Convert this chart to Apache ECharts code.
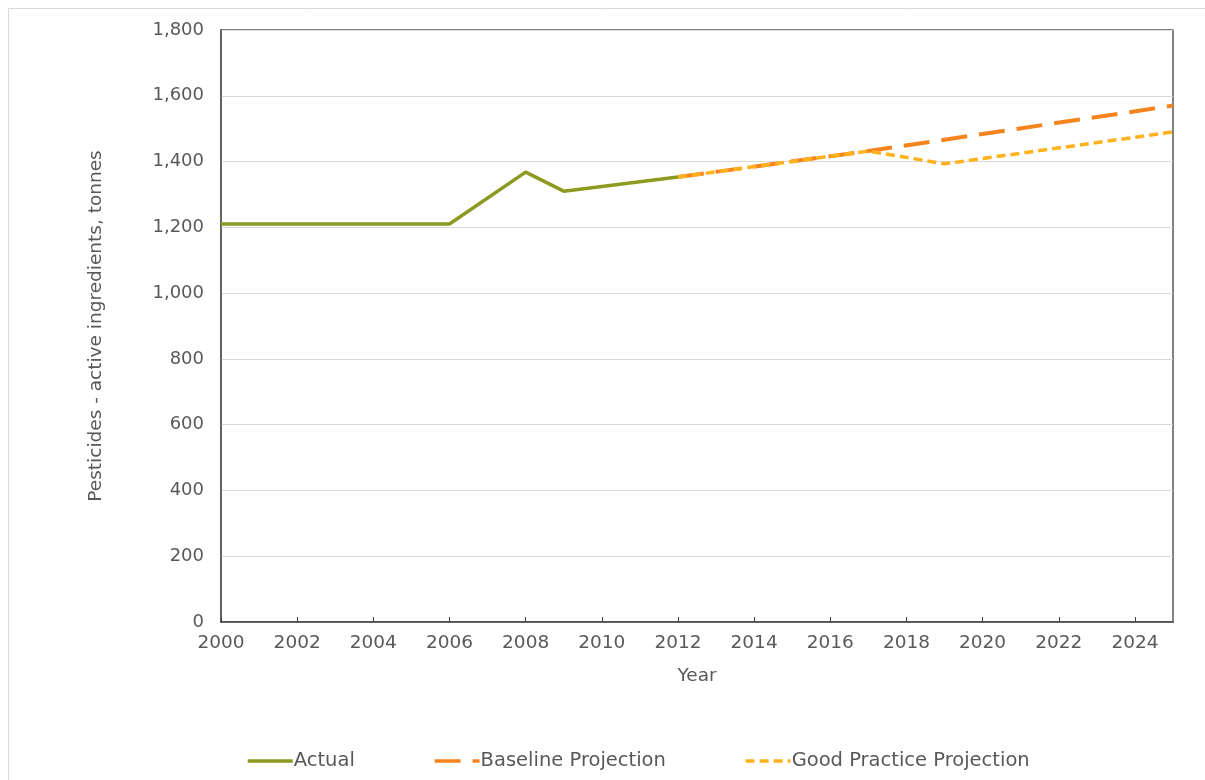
<!DOCTYPE html>
<html>
<head>
<meta charset="utf-8">
<script src="https://cdn.jsdelivr.net/npm/echarts@6/dist/echarts.min.js"></script>
<style>
  html, body { margin: 0; padding: 0; background: #fff; }
  #chart { width: 1205px; height: 780px; }
</style>
</head>
<body>
<div id="chart"></div>
<script>
// Pesticide use (active ingredients, tonnes): recorded values and two projections
const actualYears = [2000, 2001, 2002, 2003, 2004, 2005, 2006, 2008, 2009, 2012];
const actualValues = [1210, 1210, 1210, 1210, 1210, 1210, 1210, 1368, 1310, 1353];

const baselineYears = [2012, 2017, 2025];
const baselineValues = [1353, 1432, 1570];

const goodPracticeYears = [2012, 2017, 2019, 2025];
const goodPracticeValues = [1353, 1432, 1393, 1490];

const seriesNames = ['Actual', 'Baseline Projection', 'Good Practice Projection'];

const pairs = (xs, ys) => xs.map((x, i) => [x, ys[i]]);

const FONT = '"DejaVu Sans", "Liberation Sans", sans-serif';
const TEXT = '#595959';

const chart = echarts.init(document.getElementById('chart'));
chart.setOption({
  animation: false,
  backgroundColor: '#fff',
  textStyle: { fontFamily: FONT, color: TEXT },
  graphic: [{
    type: 'rect',
    shape: { x: 8.5, y: 8.5, width: 1210, height: 790 },
    style: { fill: 'none', stroke: '#d9d9d9', lineWidth: 1 },
    silent: true
  }],
  grid: {
    left: 221, right: 32, top: 30, bottom: 158,
    show: true, borderColor: '#595959', borderWidth: 1.5
  },
  xAxis: {
    type: 'value', min: 2000, max: 2025, interval: 2,
    name: 'Year', nameLocation: 'middle', nameGap: 45,
    nameTextStyle: { fontSize: 18.5, color: TEXT, fontFamily: FONT },
    axisLine: { show: true, lineStyle: { color: '#404040', width: 1.5 } },
    axisTick: { show: true, inside: true, length: 5, lineStyle: { color: '#404040' } },
    axisLabel: { fontSize: 18.5, color: TEXT, margin: 12, showMaxLabel: false,
      formatter: v => String(v) },
    splitLine: { show: false }
  },
  yAxis: {
    type: 'value', min: 0, max: 1800, interval: 200,
    name: 'Pesticides - active ingredients, tonnes', nameLocation: 'middle', nameGap: 115,
    nameTextStyle: { fontSize: 18.5, color: TEXT, fontFamily: FONT },
    axisLine: { show: true, lineStyle: { color: '#595959', width: 1.5 } },
    axisTick: { show: false },
    axisLabel: { fontSize: 18, color: TEXT, margin: 17 },
    splitLine: { show: true, lineStyle: { color: '#d9d9d9', width: 1 } }
  },
  legend: {
    bottom: 4, left: 241,
    itemGap: 78, itemWidth: 45, itemHeight: 12,
    itemStyle: { opacity: 0 },
    lineStyle: { width: 3.5 },
    textStyle: { fontSize: 19.5, color: TEXT, fontFamily: FONT, padding: [0, 0, 0, -4] },
    data: seriesNames
  },
  series: [
    {
      name: seriesNames[0], type: 'line', symbol: 'none', z: 2,
      data: pairs(actualYears, actualValues),
      lineStyle: { color: '#8c9a1f', width: 3.5 },
      itemStyle: { color: '#8c9a1f' }
    },
    {
      name: seriesNames[1], type: 'line', symbol: 'none', z: 3,
      data: pairs(baselineYears, baselineValues),
      lineStyle: { color: '#f5841f', width: 4, type: [26, 12] },
      itemStyle: { color: '#f5841f' }
    },
    {
      name: seriesNames[2], type: 'line', symbol: 'none', z: 4,
      data: pairs(goodPracticeYears, goodPracticeValues),
      lineStyle: { color: '#ffb21e', width: 3.5, type: [9, 5] },
      itemStyle: { color: '#ffb21e' }
    }
  ]
});
</script>
</body>
</html>
